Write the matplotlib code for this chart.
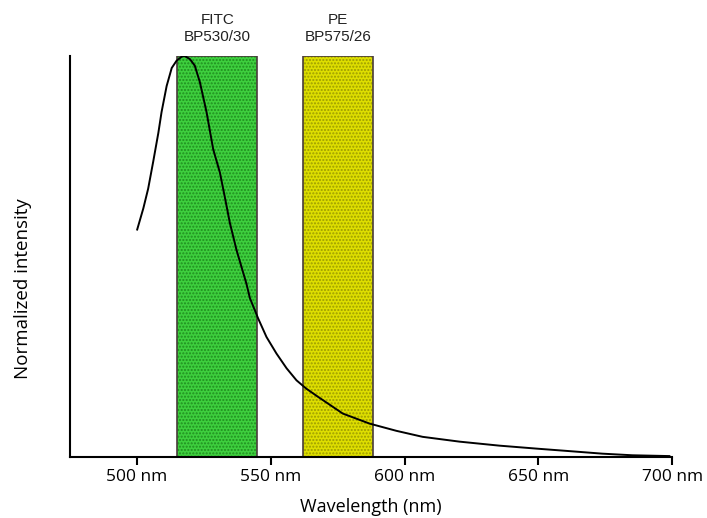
import matplotlib.pyplot as plt

# emission spectrum (nm, normalized intensity)
wavelength = [500.1, 502.4, 504.2, 506.1, 508.0, 509.2, 511.1, 513.0, 514.8, 516.7,
              517.8, 519.8, 521.6, 523.5, 526.0, 528.5, 531.0, 532.8, 534.7, 537.2,
              540.9, 542.2, 545.3, 548.4, 552.1, 555.9, 559.6, 563.3, 567.6, 576.9,
              586.9, 596.9, 606.7, 620.5, 635.4, 650.4, 660.3, 673.9, 685.1, 698.9]
intensity = [0.567, 0.620, 0.669, 0.737, 0.808, 0.860, 0.925, 0.970, 0.988, 0.998,
             1.000, 0.992, 0.976, 0.935, 0.860, 0.767, 0.709, 0.649, 0.584, 0.516,
             0.432, 0.396, 0.345, 0.299, 0.258, 0.221, 0.191, 0.170, 0.150, 0.108,
             0.083, 0.065, 0.050, 0.038, 0.028, 0.020, 0.015, 0.008, 0.004, 0.002]

# filter bands: name, centre, width
filter_names = ['FITC\nBP530/30', 'PE\nBP575/26']
filter_centres = [530, 575]
filter_widths = [30, 26]
filter_colors = ['#3ecf3e', '#dede00']
dot_colors = ['#1f8f1f', '#9c9c00']

xticks = [500, 550, 600, 650, 700]
xtick_labels = ['500 nm', '550 nm', '600 nm', '650 nm', '700 nm']

fig = plt.figure(figsize=(7.07, 5.18), dpi=100)
ax = fig.add_axes([0.099, 0.118, 0.852, 0.774])

for name, c, w, col, dcol in zip(filter_names, filter_centres, filter_widths, filter_colors, dot_colors):
    ax.bar(c, 1.0, width=w, color=col, edgecolor=dcol, linewidth=0, hatch='.....', zorder=1)
    ax.bar(c, 1.0, width=w, color='none', edgecolor='#4a3c3c', linewidth=1.2, zorder=2)
    ax.text(c, 1.03, name, ha='center', va='bottom', fontsize=11,
            family='Liberation Sans', color='#222222', linespacing=1.3)

ax.plot(wavelength, intensity, color='black', linewidth=1.4, zorder=3)

ax.set_xlim(475, 700)
ax.set_ylim(0, 1.0)
ax.spines['top'].set_visible(False)
ax.spines['right'].set_visible(False)
ax.spines['left'].set_linewidth(1.5)
ax.spines['bottom'].set_linewidth(1.5)
ax.set_yticks([])
ax.set_xticks(xticks)
ax.set_xticklabels(xtick_labels, family='Open Sans', fontsize=12.5)
ax.tick_params(axis='x', length=6, width=1.5, pad=3)

ax.set_xlabel('Wavelength (nm)', family='Open Sans', fontsize=13, labelpad=9)
ax.set_ylabel('Normalized intensity', family='Open Sans', fontsize=13.5)
ax.yaxis.set_label_coords(-0.063, 0.42)

fig.savefig('out.png', dpi=100)
